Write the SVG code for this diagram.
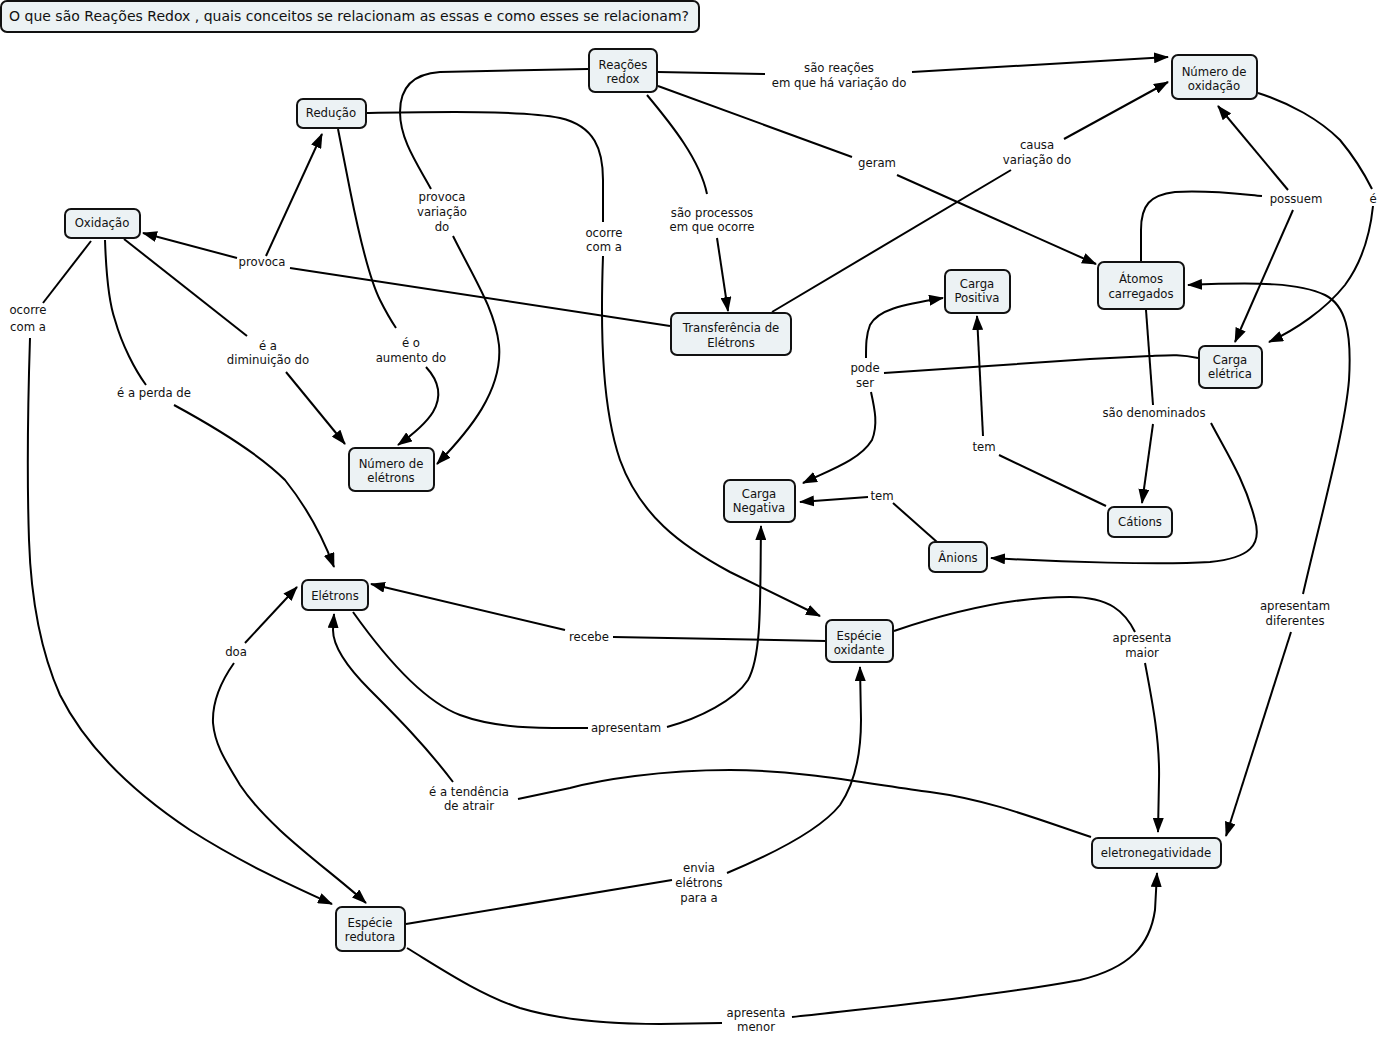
<svg xmlns="http://www.w3.org/2000/svg" width="1382" height="1037" viewBox="0 0 1382 1037">
<defs>
<style>
.n rect{fill:#ecf2f4;stroke:#111;stroke-width:2}
text{font-family:"DejaVu Sans","Liberation Sans",sans-serif;font-size:11.7px;fill:#111;text-anchor:middle}
.c path{fill:none;stroke:#000;stroke-width:2}
.c path.a{marker-end:url(#ah)}
</style>
<marker id="ah" viewBox="0 0 15 11" markerWidth="15" markerHeight="11" markerUnits="userSpaceOnUse" refX="14" refY="5.5" orient="auto"><path d="M0,0 L15,5.5 L0,11 z" fill="#000"/></marker>
</defs>
<rect width="1382" height="1037" fill="#fff"/>
<g id="title" class="n"><rect x="1" y="1" width="698" height="31" rx="6"/><text x="9" y="21" textLength="680" lengthAdjust="spacingAndGlyphs" style="text-anchor:start;font-size:13.5px">O que são Reações Redox , quais conceitos se relacionam as essas e como esses se relacionam?</text></g>

<g class="c" id="connectors">
<path d="M658,72 L765,74"/>
<path class="a" d="M912,72 L1168,57"/>
<path d="M658,86 L852,157"/>
<path class="a" d="M897,175 L1096,264"/>
<path d="M647,95 C672,125 700,160 707,194"/>
<path class="a" d="M717,238 L728,311"/>
<path d="M588,69 L440,72 C410,74 400,90 400,112 C400,140 418,165 431,189"/>
<path class="a" d="M453,236 C475,280 495,310 499,345 C503,390 470,430 437,464"/>
<path d="M367,113 C430,112 520,110 560,118 C595,126 603,150 603,180 L603,222"/>
<path class="a" d="M603,256 C600,340 603,410 620,460 C640,515 680,545 730,572 L820,616"/>
<path d="M338,129 L350,190 C360,240 370,280 380,300 C386,312 392,322 396,328"/>
<path class="a" d="M426,367 C438,380 443,395 433,412 C425,425 412,435 398,445"/>
<path d="M124,239 L247,336"/>
<path class="a" d="M286,372 L345,444"/>
<path d="M105,240 C106,270 108,300 115,320 C122,345 135,370 146,385"/>
<path class="a" d="M174,405 C220,430 260,455 285,480 C305,505 322,535 334,567"/>
<path d="M91,241 L43,303"/>
<path class="a" d="M30,338 C28,400 27,480 29,540 C31,600 40,650 60,695 C85,745 130,790 190,830 C240,862 290,885 332,904"/>
<path d="M670,326 L290,268"/>
<path class="a" d="M237,258 L143,233"/>
<path class="a" d="M266,256 L322,134"/>
<path d="M772,312 L1011,170"/>
<path class="a" d="M1064,139 L1168,82"/>
<path d="M1141,261 L1141,230 C1141,205 1150,195 1175,192 C1210,190 1240,194 1262,196"/>
<path class="a" d="M1288,190 L1218,106"/>
<path class="a" d="M1293,210 L1235,342"/>
<path d="M1258,93 C1290,103 1320,120 1340,140 C1355,158 1365,175 1372,189"/>
<path class="a" d="M1373,206 C1370,235 1362,262 1345,285 C1325,310 1295,330 1269,342"/>
<path d="M1198,358 C1180,354 1170,355 1150,356 L1090,359 L884,373"/>
<path class="a" d="M866,358 C866,345 866,335 870,325 C878,310 900,305 943,298"/>
<path class="a" d="M871,392 C875,410 878,425 872,440 C860,460 830,470 803,483"/>
<path d="M1146,310 L1153,405"/>
<path class="a" d="M1153,424 L1142,503"/>
<path class="a" d="M1211,423 C1225,450 1245,480 1255,520 C1262,545 1250,558 1210,562 C1160,565 1060,562 991,558"/>
<path d="M1106,506 L999,455"/>
<path class="a" d="M983,436 L977,316"/>
<path d="M937,542 L893,503"/>
<path class="a" d="M868,497 L800,502"/>
<path d="M826,641 L613,637"/>
<path class="a" d="M565,630 L371,584"/>
<path d="M353,612 C380,650 420,700 460,715 C500,730 550,728 588,728"/>
<path class="a" d="M667,727 C700,718 735,700 748,680 C762,655 760,600 761,526"/>
<path d="M894,631 C950,612 1010,597 1070,597 C1110,597 1125,612 1135,632"/>
<path class="a" d="M1145,663 C1152,700 1160,740 1159,780 L1158,832"/>
<path class="a" d="M1303,594 C1320,520 1345,430 1349,380 C1352,330 1345,305 1325,295 C1300,283 1260,282 1188,285"/>
<path class="a" d="M1291,632 L1226,836"/>
<path d="M1091,837 C1040,820 990,800 930,792 C870,784 800,770 730,770 C660,770 600,780 570,788 L518,799"/>
<path class="a" d="M453,782 C425,745 395,715 370,690 C345,665 333,645 333,630 L334,614"/>
<path class="a" d="M245,643 L297,587"/>
<path class="a" d="M234,663 C222,680 212,700 213,723 C215,745 225,760 240,785 C270,830 330,870 366,903"/>
<path d="M406,924 L672,880"/>
<path class="a" d="M727,873 C770,855 820,830 840,805 C857,780 861,745 861,720 L860,667"/>
<path d="M407,948 C440,968 480,995 520,1008 C560,1020 610,1024 660,1024 L722,1023"/>
<path class="a" d="M792,1017 C880,1007 1000,995 1080,980 C1130,968 1150,945 1155,910 L1157,873"/>
</g>

<g id="labels">
<text x="839" y="72">são reações</text><text x="839" y="87">em que há variação do</text>
<text x="877" y="167">geram</text>
<text x="712" y="217">são processos</text><text x="712" y="231">em que ocorre</text>
<text x="442" y="201">provoca</text><text x="442" y="216">variação</text><text x="442" y="231">do</text>
<text x="604" y="237">ocorre</text><text x="604" y="251">com a</text>
<text x="411" y="347">é o</text><text x="411" y="362">aumento do</text>
<text x="268" y="350">é a</text><text x="268" y="364">diminuição do</text>
<text x="154" y="397">é a perda de</text>
<text x="28" y="314">ocorre</text><text x="28" y="331">com a</text>
<text x="262" y="266">provoca</text>
<text x="1037" y="149">causa</text><text x="1037" y="164">variação do</text>
<text x="1296" y="203">possuem</text>
<text x="1373" y="203">é</text>
<text x="865" y="372">pode</text><text x="865" y="387">ser</text>
<text x="1154" y="417">são denominados</text>
<text x="984" y="451">tem</text>
<text x="882" y="500">tem</text>
<text x="589" y="641">recebe</text>
<text x="626" y="732">apresentam</text>
<text x="1142" y="642">apresenta</text><text x="1142" y="657">maior</text>
<text x="1295" y="610">apresentam</text><text x="1295" y="625">diferentes</text>
<text x="469" y="796">é a tendência</text><text x="469" y="810">de atrair</text>
<text x="236" y="656">doa</text>
<text x="699" y="872">envia</text><text x="699" y="887">elétrons</text><text x="699" y="902">para a</text>
<text x="756" y="1017">apresenta</text><text x="756" y="1031">menor</text>
</g>

<g id="n-reacoes" class="n"><rect x="589" y="49" width="68" height="43" rx="6"/><text x="623" y="69">Reações</text><text x="623" y="83">redox</text></g>
<g id="n-nox" class="n"><rect x="1172" y="55" width="85" height="44" rx="6"/><text x="1214" y="76">Número de</text><text x="1214" y="90">oxidação</text></g>
<g id="n-reducao" class="n"><rect x="297" y="99" width="69" height="29" rx="6"/><text x="331" y="117">Redução</text></g>
<g id="n-oxidacao" class="n"><rect x="65" y="209" width="75" height="29" rx="6"/><text x="102" y="227">Oxidação</text></g>
<g id="n-cpos" class="n"><rect x="945" y="270" width="65" height="43" rx="6"/><text x="977" y="288">Carga</text><text x="977" y="302">Positiva</text></g>
<g id="n-atomos" class="n"><rect x="1098" y="262" width="86" height="47" rx="6"/><text x="1141" y="283">Átomos</text><text x="1141" y="298">carregados</text></g>
<g id="n-transf" class="n"><rect x="671" y="313" width="120" height="42" rx="6"/><text x="731" y="332">Transferência de</text><text x="731" y="347">Elétrons</text></g>
<g id="n-celet" class="n"><rect x="1199" y="346" width="63" height="42" rx="6"/><text x="1230" y="364">Carga</text><text x="1230" y="378">elétrica</text></g>
<g id="n-cations" class="n"><rect x="1108" y="507" width="64" height="30" rx="6"/><text x="1140" y="526">Cátions</text></g>
<g id="n-cneg" class="n"><rect x="724" y="480" width="71" height="42" rx="6"/><text x="759" y="498">Carga</text><text x="759" y="512">Negativa</text></g>
<g id="n-anions" class="n"><rect x="929" y="542" width="58" height="30" rx="6"/><text x="958" y="562">Ânions</text></g>
<g id="n-nelet" class="n"><rect x="349" y="448" width="85" height="43" rx="6"/><text x="391" y="468">Número de</text><text x="391" y="482">elétrons</text></g>
<g id="n-eletrons" class="n"><rect x="302" y="580" width="66" height="30" rx="6"/><text x="335" y="600">Elétrons</text></g>
<g id="n-oxidante" class="n"><rect x="826" y="620" width="67" height="42" rx="6"/><text x="859" y="640">Espécie</text><text x="859" y="654">oxidante</text></g>
<g id="n-eneg" class="n"><rect x="1092" y="838" width="129" height="30" rx="6"/><text x="1156" y="857">eletronegatividade</text></g>
<g id="n-redutora" class="n"><rect x="336" y="907" width="69" height="44" rx="6"/><text x="370" y="927">Espécie</text><text x="370" y="941">redutora</text></g>
</svg>
